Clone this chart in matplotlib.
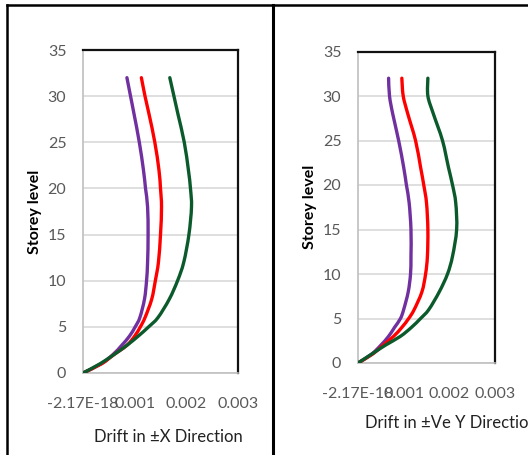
import matplotlib
matplotlib.use("Agg")
import matplotlib.pyplot as plt
from matplotlib.lines import Line2D
from matplotlib.path import Path
from matplotlib.patches import PathPatch

plt.rcParams['font.family'] = ['Lato', 'DejaVu Sans']

storeys = [0, 1, 2, 3, 4, 5, 6, 8, 10, 12, 15, 18, 20, 22, 25, 28, 30, 32]

x_purple = [0, 0.00035, 0.00058, 0.00075, 0.0009, 0.00101, 0.0011, 0.00119, 0.00123, 0.00125,
            0.00126, 0.00125, 0.00121, 0.00117, 0.00109, 0.00099, 0.00092, 0.00085]
x_red = [0, 0.00036, 0.0006, 0.00085, 0.001, 0.00111, 0.0012, 0.00133, 0.0014, 0.00146,
         0.0015, 0.00152, 0.0015, 0.00147, 0.00139, 0.00128, 0.0012, 0.00113]
x_green = [0, 0.00033, 0.0006, 0.00085, 0.00107, 0.00127, 0.00145, 0.00167, 0.00183, 0.00195,
           0.00205, 0.0021, 0.00208, 0.00204, 0.00196, 0.00184, 0.00176, 0.00168]

y_purple = [0, 0.0003, 0.0005, 0.00067, 0.0008, 0.00093, 0.001, 0.0011, 0.00115, 0.00116,
            0.00116, 0.00112, 0.00106, 0.001, 0.00089, 0.00076, 0.00069, 0.00067]
y_red = [0, 0.00032, 0.00055, 0.00078, 0.00096, 0.00111, 0.00123, 0.0014, 0.00148, 0.00152,
         0.00153, 0.0015, 0.00144, 0.00137, 0.00126, 0.00109, 0.00099, 0.00096]
y_green = [0, 0.0003, 0.0006, 0.00093, 0.00117, 0.00137, 0.00155, 0.00178, 0.00196, 0.00207,
           0.00216, 0.00214, 0.00207, 0.00198, 0.00185, 0.00165, 0.00153, 0.00153]

xticks = [0, 0.001, 0.002, 0.003]
xticklabels = ["-2.17E-18", "0.001", "0.002", "0.003"]
yticks = [0, 5, 10, 15, 20, 25, 30, 35]

ylabel = "Storey level"
xlabel_left = "Drift in \u00b1X Direction"
xlabel_right = "Drift in \u00b1Ve Y Direction"

colors = ["#7030A0", "#FF0000", "#0B5A2C"]

W, H = 528, 455
fig = plt.figure(figsize=(W / 100, H / 100), dpi=100)


def px_rect(x0, x1, y_top, y_bot):
    return [x0 / W, (H - y_bot) / H, (x1 - x0) / W, (y_bot - y_top) / H]


def smooth_line(ax, xs, ys, color):
    # Excel-like smoothed line: Catmull-Rom cubic Bezier through the data points
    n = len(xs)
    verts = [(xs[0], ys[0])]
    codes = [Path.MOVETO]
    for i in range(n - 1):
        p0 = (xs[max(i - 1, 0)], ys[max(i - 1, 0)])
        p1 = (xs[i], ys[i])
        p2 = (xs[i + 1], ys[i + 1])
        p3 = (xs[min(i + 2, n - 1)], ys[min(i + 2, n - 1)])
        c1 = (p1[0] + (p2[0] - p0[0]) / 6, p1[1] + (p2[1] - p0[1]) / 6)
        c2 = (p2[0] - (p3[0] - p1[0]) / 6, p2[1] - (p3[1] - p1[1]) / 6)
        verts += [c1, c2, p2]
        codes += [Path.CURVE4, Path.CURVE4, Path.CURVE4]
    patch = PathPatch(Path(verts, codes), facecolor='none', edgecolor=color,
                      linewidth=2.4, capstyle='round', joinstyle='round', zorder=3)
    ax.add_patch(patch)


def style(ax):
    ax.set_xlim(0, 0.003)
    ax.set_ylim(0, 35)
    ax.set_xticks(xticks)
    ax.set_xticklabels(xticklabels)
    ax.set_yticks(yticks)
    ax.tick_params(axis='both', length=0, labelsize=11.5, labelcolor="#595959")
    ax.tick_params(axis='y', pad=12)
    ax.tick_params(axis='x', pad=17)
    ax.grid(axis='y', color="#d9d9d9", linewidth=1.2)
    ax.grid(axis='x', visible=False)
    ax.set_axisbelow(True)
    for s in ['left', 'bottom']:
        ax.spines[s].set_color("#bfbfbf")
        ax.spines[s].set_linewidth(1.2)
    for s in ['top', 'right']:
        ax.spines[s].set_color("#111111")
        ax.spines[s].set_linewidth(1.6)


ax1 = fig.add_axes(px_rect(83, 238, 50, 373))
for xs, c in zip([x_purple, x_red, x_green], colors):
    smooth_line(ax1, xs, storeys, c)
style(ax1)
ax1.set_ylabel(ylabel, fontsize=11.5, fontweight='bold', color='black', labelpad=4)

ax2 = fig.add_axes(px_rect(358, 495, 51.5, 363))
for xs, c in zip([y_purple, y_red, y_green], colors):
    smooth_line(ax2, xs, storeys, c)
style(ax2)
ax2.set_ylabel(ylabel, fontsize=11.5, fontweight='bold', color='black', labelpad=4)

fig.text(168 / W, 1 - 437 / H, xlabel_left, ha='center', va='center', fontsize=12, color='#222222')
fig.text(365 / W, 1 - 423 / H, xlabel_right, ha='left', va='center', fontsize=12, color='#222222')

# panel borders
fig.add_artist(Line2D([7 / W, 7 / W], [0, 1 - 5 / H], transform=fig.transFigure, color='black', linewidth=1.8))
fig.add_artist(Line2D([273 / W, 273 / W], [0, 1 - 5 / H], transform=fig.transFigure, color='black', linewidth=2.2))
fig.add_artist(Line2D([7 / W, 1], [1 - 5 / H, 1 - 5 / H], transform=fig.transFigure, color='black', linewidth=1.8))

fig.savefig("out.png", dpi=100)
